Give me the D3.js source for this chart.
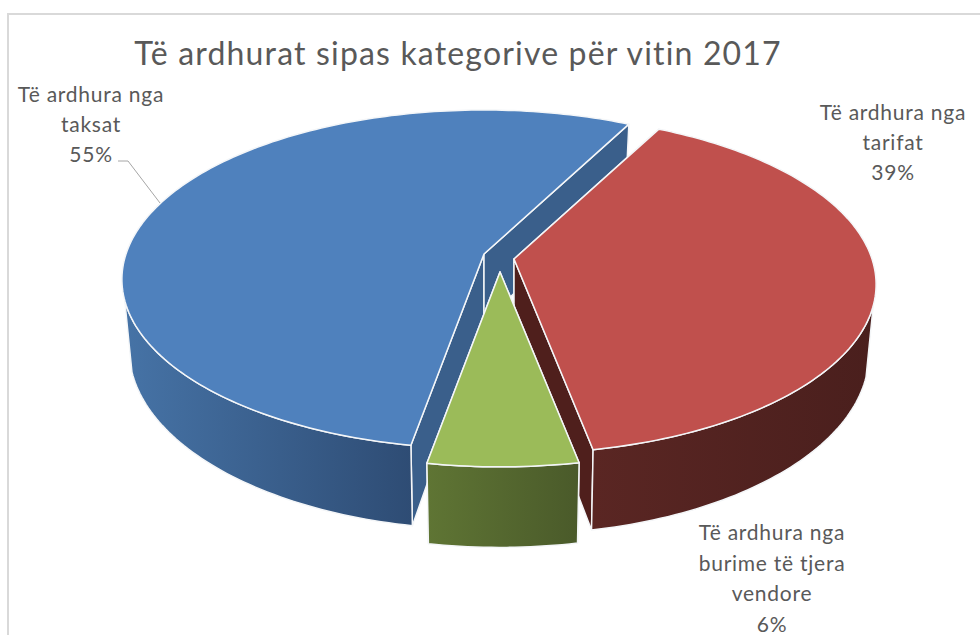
<!DOCTYPE html>
<html>
<head>
<meta charset="utf-8">
<script src="https://cdn.jsdelivr.net/npm/d3@7"></script>
<style>
  html, body { margin: 0; padding: 0; background: #fff; overflow: hidden; }
  text { font-family: Lato, "Open Sans", sans-serif; fill: #595959; }
</style>
</head>
<body>
<script>
// values (labels round them)
var categories = ['Të ardhura nga tarifat', 'Të ardhura nga burime të tjera vendore', 'Të ardhura nga taksat'];
var values = [39.4, 5.8, 54.8];
var labelLines = [
  ['Të ardhura nga', 'tarifat'],
  ['Të ardhura nga', 'burime të tjera', 'vendore'],
  ['Të ardhura nga', 'taksat']
];
var titleText = 'Të ardhurat sipas kategorive për vitin 2017';

var width = 980, height = 635;

// one entry per slice, same order as values
var topColors = ['#c0504d', '#9bbb59', '#4f81bd'];
var innerColors = ['#4f1f1c', '#4f6228', '#3a5f8b'];
var wallStops = [['#5a2623', '#4a1f1d'], ['#5f7534', '#4a5a2a'], ['#4673a6', '#2e4c74']];
var apex = [[514, 259], [500, 272], [484, 254]];
var labelPos = [[893, 120, 30], [772, 540, 30.5], [91, 102, 30]];

var svg = d3.select(document.body).append('svg')
  .attr('width', width).attr('height', height)
  .style('display', 'block');

svg.append('rect')
  .attr('x', 8).attr('y', 14)
  .attr('width', width).attr('height', height)
  .attr('fill', 'none').attr('stroke', '#d9d9d9').attr('stroke-width', 2);

svg.append('text')
  .attr('x', 458).attr('y', 65)
  .attr('text-anchor', 'middle')
  .style('font-size', '32px')
  .style('letter-spacing', '1.17px')
  .text(titleText);

var rotation = 27.3 * Math.PI / 180;
var pie = d3.pie().sort(null).startAngle(rotation).endAngle(rotation + 2 * Math.PI);
var arcs = pie(values);

// perspective of the pie plane, v points at the viewer
var rx = 358, ry = 165.6, persp = 0.15, depth = 68.5, bottomShrink = 0.98;

function project(angle, radius, origin, bottom) {
  var u = Math.sin(angle) * radius,
    v = -Math.cos(angle) * radius,
    w = 1 - persp * v,
    x = rx * u / w,
    y = ry * v / w;
  if (bottom) {
    return [origin[0] + x * bottomShrink, origin[1] + y + depth / w];
  }
  return [origin[0] + x, origin[1] + y];
}

function arcPoints(a0, a1, origin, bottom) {
  var n = Math.max(2, Math.ceil(Math.abs(a1 - a0) / 0.02));
  return d3.range(n + 1).map(function (i) {
    return project(a0 + (a1 - a0) * i / n, 1, origin, bottom);
  });
}

var line = d3.line().curve(d3.curveLinear);
function closed(points) { return line(points) + 'Z'; }

var defs = svg.append('defs');
wallStops.forEach(function (s, i) {
  var g = defs.append('linearGradient').attr('id', 'wall' + i);
  g.append('stop').attr('offset', '0%').attr('stop-color', s[0]);
  g.append('stop').attr('offset', '100%').attr('stop-color', s[1]);
});

// only the part of the rim that faces the viewer gets a wall
var frontFrom = 105.7 * Math.PI / 180, frontTo = 254.3 * Math.PI / 180;

// paint back to front: taxes, fees, other
var paintOrder = [2, 0, 1];
paintOrder.forEach(function (i) {
  var d = arcs[i],
    c = apex[i],
    g = svg.append('g').attr('class', 'slice').attr('data-category', categories[i])
      .attr('stroke', '#f4f6f8').attr('stroke-width', 1.5).attr('stroke-linejoin', 'round'),
    a0 = d.startAngle,
    a1 = d.endAngle,
    apexBottom = [c[0], c[1] + depth];

  // cut faces
  [a0, a1].forEach(function (a) {
    var faceEnd = project(a, 1, c, false), faceEndBottom = project(a, 1, c, true);
    g.append('path')
      .attr('d', closed([c, faceEnd, faceEndBottom, apexBottom]))
      .attr('fill', innerColors[i]);
  });

  // outer wall
  var from = Math.max(a0, frontFrom), to = Math.min(a1, frontTo);
  var wallTop = arcPoints(from, to, c, false),
    wallBottom = arcPoints(to, from, c, true);
  g.append('path')
    .attr('d', closed(wallTop.concat(wallBottom)))
    .attr('fill', 'url(#wall' + i + ')');

  // top face
  g.append('path')
    .attr('d', closed([c].concat(arcPoints(a0, a1, c, false))))
    .attr('fill', topColors[i]);
});

// data labels
arcs.forEach(function (d, i) {
  var lines = labelLines[i].concat([Math.round(d.value) + '%']),
    p = labelPos[i];
  var t = svg.append('text')
    .attr('text-anchor', 'middle')
    .style('font-size', '21px')
    .style('letter-spacing', '0.75px');
  lines.forEach(function (l, k) {
    t.append('tspan').attr('x', p[0]).attr('y', p[1] + k * p[2]).text(l);
  });
});

// leader of the taxes label
svg.append('path')
  .attr('d', line([[118, 161], [128, 161], [160, 203]]))
  .attr('fill', 'none').attr('stroke', '#a6a6a6').attr('stroke-width', 1);
</script>
</body>
</html>
